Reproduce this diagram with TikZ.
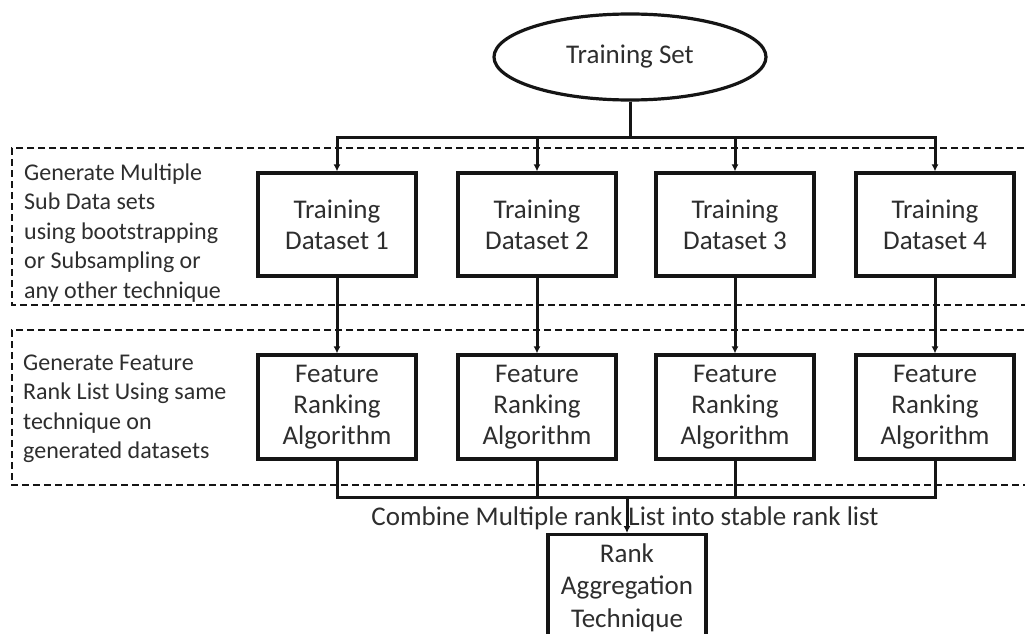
\documentclass[tikz,border=0pt]{standalone}
\usepackage{fontspec}
\setmainfont{Carlito}
\usetikzlibrary{shapes.geometric,arrows.meta}
\definecolor{txt}{HTML}{2E2E2E}
\definecolor{ln}{HTML}{151515}
\begin{document}
\begin{tikzpicture}[x=1pt,y=-1pt,
  box/.style={draw=ln,line width=3.2pt,minimum width=158pt,minimum height=103pt,inner sep=0pt,align=center,text=txt,font=\fontsize{27}{31}\selectfont},
  conn/.style={draw=ln,line width=3pt},
  arr/.style={conn,-{Latex[length=7pt,width=7pt]}},
  dsh/.style={draw=ln,line width=2.8pt,dash pattern=on 7pt off 4pt},
  side/.style={anchor=west,inner sep=0pt,align=left,text=txt,font=\fontsize{24}{29.5}\selectfont}]
\useasboundingbox (0,0) rectangle (1025,634);
\fill[white] (0,0) rectangle (1025,634);

% dashed regions
\draw[dsh] (1035,148) -- (12,148) -- (12,305) -- (1035,305);
\draw[dsh] (1035,330) -- (12,330) -- (12,485) -- (1035,485);

\node[side] (g1) at (24,233) {Generate Multiple\\Sub Data sets\\using bootstrapping\\or Subsampling or\\any other technique};
\node[side] (g2) at (23,409) {Generate Feature\\Rank List Using same\\technique on\\generated datasets};

% top
\node[ellipse,draw=ln,line width=3.2pt,minimum width=272pt,minimum height=86pt,inner sep=0pt,text=txt,font=\fontsize{27}{31}\selectfont] (ts) at (630,57) {Training Set};

\node[box] (d1) at (337,224.5) {Training\\Dataset 1};
\node[box] (d2) at (537,224.5) {Training\\Dataset 2};
\node[box] (d3) at (735,224.5) {Training\\Dataset 3};
\node[box] (d4) at (935,224.5) {Training\\Dataset 4};

\node[box,minimum height=104pt] (f1) at (337,407) {Feature\\Ranking\\Algorithm};
\node[box,minimum height=104pt] (f2) at (537,407) {Feature\\Ranking\\Algorithm};
\node[box,minimum height=104pt] (f3) at (735,407) {Feature\\Ranking\\Algorithm};
\node[box,minimum height=104pt] (f4) at (935,407) {Feature\\Ranking\\Algorithm};

\node[box,anchor=north,minimum height=0pt,inner ysep=9pt,font=\fontsize{27}{32.5}\selectfont] (ra) at (627,533) {Rank\\Aggregation\\Technique\\[-2pt]};

\coordinate (tb) at (630,137);
\coordinate (bb) at (627,497);

\draw[arr] (ts.south) -- (tb) -| (d1.north);
\draw[arr] (ts.south) -- (tb) -| (d2.north);
\draw[arr] (ts.south) -- (tb) -| (d3.north);
\draw[arr] (ts.south) -- (tb) -| (d4.north);

\draw[arr] (d1.south) -- (f1.north);
\draw[arr] (d2.south) -- (f2.north);
\draw[arr] (d3.south) -- (f3.north);
\draw[arr] (d4.south) -- (f4.north);

\draw[conn] (f1.south) |- (bb);
\draw[conn] (f2.south) |- (bb);
\draw[conn] (f3.south) |- (bb);
\draw[conn] (f4.south) |- (bb);
\draw[arr] (bb) -- (ra.north);

\node[inner sep=0pt,text=txt,font=\fontsize{27}{31}\selectfont] (cm) at (625,518) {Combine Multiple rank List into stable rank list};
\end{tikzpicture}
\end{document}
